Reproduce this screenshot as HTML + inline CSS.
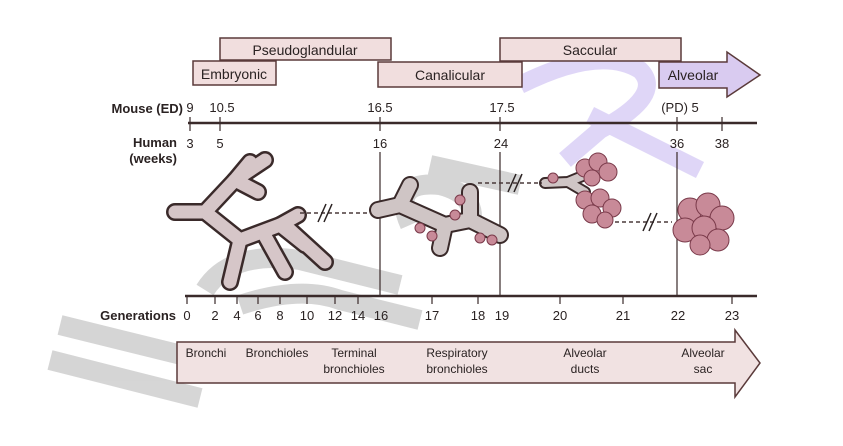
<!DOCTYPE html>
<html><head><meta charset="utf-8"><style>
html,body{margin:0;padding:0;background:#fff;}
svg{display:block;}
text{font-family:"Liberation Sans",Arial,sans-serif;fill:#2a2222;}
</style></head><body>
<svg width="843" height="446" viewBox="0 0 843 446" xmlns="http://www.w3.org/2000/svg">
<!-- watermark grey -->
<g stroke="#c4c4c4" stroke-width="20" fill="none" opacity="0.7" stroke-linecap="butt">
<path d="M50 360 L200 398"/>
<path d="M60 325 L210 362"/>
<path d="M240 305 Q300 285 340 300 L420 320"/>
<path d="M205 290 Q230 250 300 260 L400 285"/>
<path d="M410 225 Q390 180 440 185 Q480 195 470 230"/>
<path d="M430 165 L520 185"/>
</g>
<!-- watermark purple -->
<g stroke="#c6b6f2" stroke-width="18" fill="none" opacity="0.55">
<path d="M520 85 Q600 45 640 70 Q665 95 600 130 L565 160"/>
<path d="M590 115 L700 170"/>
</g>
<!-- stage boxes -->
<g stroke="#5a3a3a" stroke-width="1.5" fill="#f1dede">
<rect x="220" y="38" width="171" height="22"/>
<rect x="500" y="38" width="181" height="23"/>
<rect x="193" y="61" width="83" height="24"/>
<rect x="378" y="62" width="144" height="25"/>
<path d="M659 62 L727 62 L727 52 L760 75 L727 97 L727 88 L659 88 Z" fill="#d9cbf0"/>
</g>
<text x="305" y="55" font-size="14" text-anchor="middle">Pseudoglandular</text>
<text x="590" y="55" font-size="14" text-anchor="middle">Saccular</text>
<text x="234" y="79" font-size="14" text-anchor="middle">Embryonic</text>
<text x="450" y="80" font-size="14" text-anchor="middle">Canalicular</text>
<text x="693" y="80" font-size="14" text-anchor="middle">Alveolar</text>
<!-- mouse/human axis -->
<text x="183" y="113" font-size="13" font-weight="bold" text-anchor="end">Mouse (ED)</text>
<text x="177" y="147" font-size="13" font-weight="bold" text-anchor="end">Human</text>
<text x="177" y="163" font-size="13" font-weight="bold" text-anchor="end">(weeks)</text>
<line x1="188" y1="123" x2="757" y2="123" stroke="#3a2a2a" stroke-width="2.5"/>
<g stroke="#3a2a2a" stroke-width="1.2">
<line x1="190" y1="117" x2="190" y2="131"/><line x1="220" y1="117" x2="220" y2="131"/>
<line x1="380" y1="117" x2="380" y2="131"/><line x1="500" y1="117" x2="500" y2="131"/>
<line x1="677" y1="117" x2="677" y2="131"/><line x1="722" y1="117" x2="722" y2="131"/>
<line x1="380" y1="152" x2="380" y2="297"/><line x1="500" y1="152" x2="500" y2="297"/>
<line x1="677" y1="152" x2="677" y2="297"/>
</g>
<g font-size="13" text-anchor="middle">
<text x="190" y="112">9</text><text x="222" y="112">10.5</text><text x="380" y="112">16.5</text>
<text x="502" y="112">17.5</text><text x="680" y="112">(PD) 5</text>
<text x="190" y="148">3</text><text x="220" y="148">5</text><text x="380" y="148">16</text>
<text x="501" y="148">24</text><text x="677" y="148">36</text><text x="722" y="148">38</text>
</g>
<!-- bronchial tree -->
<g fill="none" stroke-linecap="round" stroke-linejoin="round">
<g stroke="#3a2a2a" stroke-width="18">
<path d="M175 212 L205 212 L235 180 L250 162"/><path d="M235 180 L265 160"/>
<path d="M205 212 L240 240 L280 225 L298 215"/><path d="M240 240 L230 282"/>
<path d="M280 225 L305 245"/><path d="M265 236 L285 272"/><path d="M290 230 L325 262"/>
<path d="M235 180 L258 192"/>
</g>
<g stroke="#d6c6c8" stroke-width="13">
<path d="M175 212 L205 212 L235 180 L250 162"/><path d="M235 180 L265 160"/>
<path d="M205 212 L240 240 L280 225 L298 215"/><path d="M240 240 L230 282"/>
<path d="M280 225 L305 245"/><path d="M265 236 L285 272"/><path d="M290 230 L325 262"/>
<path d="M235 180 L258 192"/>
</g>
<!-- canalicular -->
<g stroke="#3a2a2a" stroke-width="18">
<path d="M378 210 L400 205 L445 225 L470 220 L500 235"/><path d="M400 205 L410 185"/>
<path d="M445 225 L440 248"/><path d="M470 220 L470 192"/>
</g>
<g stroke="#cfc5c5" stroke-width="14">
<path d="M378 210 L400 205 L445 225 L470 220 L500 235"/><path d="M400 205 L410 185"/>
<path d="M445 225 L440 248"/><path d="M470 220 L470 192"/>
</g>
<g stroke="#3a2a2a" stroke-width="12"><path d="M545 183 L568 182 L585 175"/><path d="M568 182 L585 192"/></g>
<g stroke="#cfc5c5" stroke-width="8"><path d="M545 183 L568 182 L585 175"/><path d="M568 182 L585 192"/></g>
</g>
<!-- alveoli clusters -->
<g fill="#c88a98" stroke="#7a3a4a" stroke-width="1">
<circle cx="420" cy="228" r="5"/><circle cx="432" cy="236" r="5"/><circle cx="480" cy="238" r="5"/><circle cx="492" cy="240" r="5"/><circle cx="460" cy="200" r="5"/><circle cx="455" cy="215" r="5"/>
<circle cx="585" cy="168" r="9"/><circle cx="598" cy="162" r="9"/><circle cx="608" cy="172" r="9"/><circle cx="592" cy="178" r="8"/>
<circle cx="585" cy="200" r="9"/><circle cx="600" cy="198" r="9"/><circle cx="612" cy="208" r="9"/><circle cx="592" cy="214" r="9"/><circle cx="605" cy="220" r="8"/><circle cx="553" cy="178" r="5"/>
<circle cx="690" cy="210" r="12"/><circle cx="708" cy="205" r="12"/><circle cx="722" cy="218" r="12"/><circle cx="685" cy="230" r="12"/><circle cx="704" cy="228" r="12"/><circle cx="718" cy="240" r="11"/><circle cx="700" cy="245" r="10"/>
</g>
<!-- dashed connectors -->
<g stroke="#4a3a3a" stroke-width="1.5" stroke-dasharray="4,3">
<line x1="300" y1="213" x2="370" y2="213"/><line x1="478" y1="183" x2="542" y2="183"/><line x1="615" y1="222" x2="672" y2="222"/>
</g>
<g stroke="#2a2222" stroke-width="1.5">
<line x1="318" y1="222" x2="326" y2="204"/><line x1="324" y1="222" x2="332" y2="204"/>
<line x1="508" y1="192" x2="516" y2="174"/><line x1="514" y1="192" x2="522" y2="174"/>
<line x1="643" y1="231" x2="651" y2="213"/><line x1="649" y1="231" x2="657" y2="213"/>
</g>
<!-- generations axis -->
<line x1="185" y1="296" x2="757" y2="296" stroke="#3a2a2a" stroke-width="2.5"/>
<g stroke="#3a2a2a" stroke-width="1.2">
<line x1="187" y1="296" x2="187" y2="304"/><line x1="215" y1="296" x2="215" y2="304"/><line x1="237" y1="296" x2="237" y2="304"/><line x1="258" y1="296" x2="258" y2="304"/><line x1="280" y1="296" x2="280" y2="304"/><line x1="307" y1="296" x2="307" y2="304"/><line x1="335" y1="296" x2="335" y2="304"/><line x1="358" y1="296" x2="358" y2="304"/><line x1="432" y1="296" x2="432" y2="304"/><line x1="478" y1="296" x2="478" y2="304"/><line x1="560" y1="296" x2="560" y2="304"/><line x1="623" y1="296" x2="623" y2="304"/><line x1="732" y1="296" x2="732" y2="304"/>
</g>
<text x="176" y="320" font-size="13" font-weight="bold" text-anchor="end">Generations</text>
<g font-size="13" text-anchor="middle">
<text x="187" y="320">0</text><text x="215" y="320">2</text><text x="237" y="320">4</text><text x="258" y="320">6</text><text x="280" y="320">8</text><text x="307" y="320">10</text><text x="335" y="320">12</text><text x="358" y="320">14</text><text x="381" y="320">16</text><text x="432" y="320">17</text><text x="478" y="320">18</text><text x="502" y="320">19</text><text x="560" y="320">20</text><text x="623" y="320">21</text><text x="678" y="320">22</text><text x="732" y="320">23</text>
</g>
<!-- bottom arrow -->
<path d="M177 342 L735 342 L735 330 L760 363 L735 397 L735 383 L177 383 Z" fill="#f1e2e2" stroke="#5a3a3a" stroke-width="1.5"/>
<g font-size="12" text-anchor="middle">
<text x="206" y="357">Bronchi</text><text x="277" y="357">Bronchioles</text>
<text x="354" y="357">Terminal</text><text x="354" y="373">bronchioles</text>
<text x="457" y="357">Respiratory</text><text x="457" y="373">bronchioles</text>
<text x="585" y="357">Alveolar</text><text x="585" y="373">ducts</text>
<text x="703" y="357">Alveolar</text><text x="703" y="373">sac</text>
</g>
</svg>
</body></html>
